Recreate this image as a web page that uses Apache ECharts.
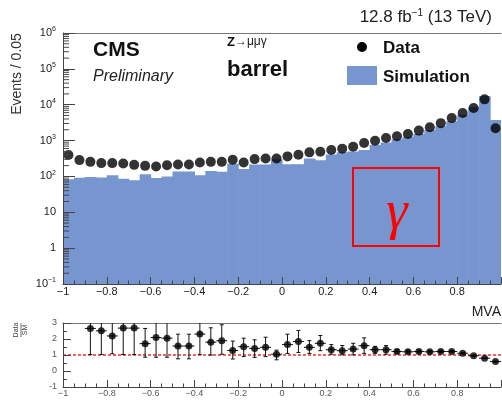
<!DOCTYPE html>
<html>
<head>
<meta charset="utf-8">
<script src="https://cdn.jsdelivr.net/npm/echarts@6/dist/echarts.min.js"></script>
<style>
  html, body { margin: 0; padding: 0; background: #fff; }
  #chart { width: 502px; height: 411px; }
</style>
</head>
<body>
<div id="chart"></div>
<script>
// Photon MVA output, Z -> mu mu gamma, barrel; 40 bins of width 0.05 on [-1, 1]
const binCenters = [
  -0.975, -0.925, -0.875, -0.825, -0.775, -0.725, -0.675, -0.625, -0.575, -0.525,
  -0.475, -0.425, -0.375, -0.325, -0.275, -0.225, -0.175, -0.125, -0.075, -0.025,
   0.025,  0.075,  0.125,  0.175,  0.225,  0.275,  0.325,  0.375,  0.425,  0.475,
   0.525,  0.575,  0.625,  0.675,  0.725,  0.775,  0.825,  0.875,  0.925,  0.975
];
const dataCounts = [
  394, 285, 255, 235, 235, 230, 210, 197, 190, 206,
  216, 216, 246, 255, 255, 291, 246, 304, 318, 318,
  362, 402, 469, 488, 545, 595, 674, 857, 993, 1183,
  1321, 1531, 1897, 2364, 3062, 4227, 5848, 8072, 14090, 2218
];
const simCounts = [
  84, 92, 97, 94, 107, 86, 78, 115, 91, 100,
  138, 138, 107, 142, 135, 227, 162, 216, 215, 303,
  219, 218, 317, 282, 410, 470, 492, 542, 747, 889,
  1083, 1276, 1555, 1970, 2510, 3465, 5270, 8500, 17600, 3760
];
// Data / SM ratio with its uncertainty band (lower / upper end)
const ratioValues = [
  null, null, 2.66, 2.51, 2.19, 2.68, 2.68, 1.71, 2.09, 2.05,
  1.56, 1.56, 2.31, 1.80, 1.89, 1.28, 1.52, 1.41, 1.48, 1.05,
  1.65, 1.84, 1.48, 1.73, 1.33, 1.27, 1.37, 1.58, 1.33, 1.33,
  1.22, 1.20, 1.22, 1.20, 1.22, 1.22, 1.11, 0.95, 0.80, 0.59
];
const ratioLow = [
  null, null, 1.03, 1.03, 1.08, 1.03, 1.03, 0.86, 0.86, 0.86,
  0.76, 0.76, 1.03, 1.00, 1.05, 0.75, 0.90, 0.85, 0.90, 0.70,
  1.10, 1.16, 1.10, 1.27, 1.05, 1.01, 1.01, 1.10, 1.10, 1.05,
  1.12, 1.12, 1.14, 1.13, 1.16, 1.17, 1.07, 0.92, 0.78, 0.56
];
const ratioHigh = [
  null, null, 3.6, 3.4, 3.3, 3.6, 3.6, 2.66, 3.3, 3.2,
  2.30, 2.30, 3.5, 2.70, 2.89, 1.87, 2.05, 1.95, 2.11, 1.30,
  2.30, 2.54, 1.90, 2.22, 1.65, 1.59, 1.73, 2.07, 1.54, 1.59,
  1.32, 1.29, 1.30, 1.27, 1.28, 1.27, 1.15, 0.98, 0.82, 0.62
];
const xTicks = [-1, -0.8, -0.6, -0.4, -0.2, 0, 0.2, 0.4, 0.6, 0.8, 1];
const ratioTicks = [-1, 0, 1, 2, 3];

const HALF_BIN = 0.025;
const FONT = '"Liberation Sans", Arial, Helvetica, sans-serif';
const AXIS_COLOR = '#444';
const SIM_COLOR = '#7795cf';

const fmtNum = v => {
  const r = Math.round(v * 10) / 10;
  return (r < 0 ? '\u2212' : '') + String(Math.abs(r));
};
const fmtLog = v => {
  const e = Math.round(Math.log10(v));
  if (e === 0) return '1';
  if (e === 1) return '10';
  return '10{sup|' + (e < 0 ? '\u2212' + (-e) : e) + '}';
};

// minor ticks of the logarithmic axis (2..9 x 10^k)
const logMinor = [];
for (let k = -1; k < 6; k++) {
  for (let m = 2; m <= 9; m++) logMinor.push([m * Math.pow(10, k)]);
}

const histData = binCenters.map((c, i) => [c, simCounts[i]]);
const dotData = binCenters.map((c, i) => [c, dataCounts[i]]);
const ratioData = [];
binCenters.forEach((c, i) => {
  if (ratioValues[i] != null) ratioData.push([c, ratioValues[i], ratioLow[i], ratioHigh[i]]);
});

const chart = echarts.init(document.getElementById('chart'), null, { renderer: 'canvas' });

const commonX = {
  type: 'value', min: -1, max: 1, interval: 0.2,
  splitLine: { show: false },
  axisLine: { onZero: false, lineStyle: { color: AXIS_COLOR, width: 1 } },
  axisTick: { inside: true, length: 7, lineStyle: { color: AXIS_COLOR } },
  minorTick: { show: true, splitNumber: 4, length: 3.5, lineStyle: { color: AXIS_COLOR } },
  z: 10
};

chart.setOption({
  animation: false,
  backgroundColor: '#fff',
  grid: [
    { left: 63, top: 33, width: 438, height: 251 },
    { left: 63, top: 323, width: 438, height: 64 }
  ],
  xAxis: [
    Object.assign({}, commonX, {
      gridIndex: 0, position: 'bottom',
      axisLabel: { fontFamily: FONT, fontSize: 11, color: '#222', margin: 2, formatter: fmtNum, showMaxLabel: false }
    }),
    { type: 'value', gridIndex: 0, position: 'top', min: -1, max: 1,
      axisLine: { onZero: false, lineStyle: { color: '#777' } }, axisTick: { show: false },
      axisLabel: { show: false }, splitLine: { show: false } },
    Object.assign({}, commonX, {
      gridIndex: 1, position: 'bottom',
      axisLabel: { fontFamily: FONT, fontSize: 9, color: '#555', margin: 2, formatter: fmtNum, showMaxLabel: false }
    }),
    { type: 'value', gridIndex: 1, position: 'top', min: -1, max: 1,
      axisLine: { onZero: false, lineStyle: { color: '#777' } }, axisTick: { show: false },
      axisLabel: { show: false }, splitLine: { show: false } }
  ],
  yAxis: [
    { type: 'log', gridIndex: 0, logBase: 10, min: 0.1, max: 1e6, interval: 1,
      splitLine: { show: false },
      axisLine: { show: true, onZero: false, lineStyle: { color: AXIS_COLOR } },
      axisTick: { inside: true, length: 12, lineStyle: { color: AXIS_COLOR } },
      axisLabel: {
        fontFamily: FONT, fontSize: 11, color: '#222', margin: 7, formatter: fmtLog,
        rich: { sup: { fontFamily: FONT, fontSize: 7, color: '#222', verticalAlign: 'top', padding: [0, 0, 7, 0] } }
      },
      z: 10 },
    { type: 'value', gridIndex: 1, min: -1, max: 3, interval: 1,
      splitLine: { show: false },
      axisLine: { show: true, onZero: false, lineStyle: { color: AXIS_COLOR } },
      axisTick: { inside: true, length: 8, lineStyle: { color: AXIS_COLOR } },
      minorTick: { show: true, splitNumber: 2, length: 4, lineStyle: { color: AXIS_COLOR } },
      axisLabel: { fontFamily: FONT, fontSize: 9, color: '#555', margin: 6 },
      z: 10 }
  ],
  series: [
    {
      name: 'Simulation', type: 'custom', xAxisIndex: 0, yAxisIndex: 0,
      itemStyle: { color: SIM_COLOR }, data: histData, clip: true, z: 2,
      renderItem: (params, api) => {
        const c = api.value(0), v = api.value(1);
        const p0 = api.coord([c - HALF_BIN, v]);
        const p1 = api.coord([c + HALF_BIN, 0.1]);
        return { type: 'rect',
          shape: { x: p0[0], y: p0[1], width: p1[0] - p0[0] + 0.6, height: p1[1] - p0[1] },
          style: { fill: SIM_COLOR } };
      }
    },
    {
      name: 'logMinor', type: 'custom', xAxisIndex: 0, yAxisIndex: 0, data: logMinor, z: 11,
      silent: true,
      renderItem: (params, api) => {
        const p = api.coord([-1, api.value(0)]);
        return { type: 'line', shape: { x1: p[0], y1: p[1], x2: p[0] + 6, y2: p[1] },
          style: { stroke: AXIS_COLOR, lineWidth: 1 } };
      }
    },
    {
      name: 'Data', type: 'scatter', xAxisIndex: 0, yAxisIndex: 0, data: dotData,
      symbol: 'circle', symbolSize: 10, itemStyle: { color: '#000' }, z: 5
    },
    {
      name: 'unity', type: 'line', xAxisIndex: 2, yAxisIndex: 1,
      data: [[-1, 1], [1, 1]], symbol: 'none', silent: true,
      lineStyle: { color: '#e8322e', width: 1.5, type: [3, 2] }, z: 3
    },
    {
      name: 'ratioErr', type: 'custom', xAxisIndex: 2, yAxisIndex: 1, data: ratioData, clip: true, z: 4,
      renderItem: (params, api) => {
        const c = api.value(0);
        const top = Math.min(api.value(3), 3);
        const pc = api.coord([c, api.value(1)]);
        const pl = api.coord([c, api.value(2)]);
        const ph = api.coord([c, top]);
        const pa = api.coord([c - HALF_BIN, api.value(1)]);
        const pb = api.coord([c + HALF_BIN, api.value(1)]);
        const st = { stroke: '#111', lineWidth: 1 };
        const kids = [
          { type: 'line', shape: { x1: pc[0], y1: pl[1], x2: pc[0], y2: ph[1] }, style: st },
          { type: 'line', shape: { x1: pa[0], y1: pa[1], x2: pb[0], y2: pb[1] }, style: st },
          { type: 'line', shape: { x1: pc[0] - 2, y1: pl[1], x2: pc[0] + 2, y2: pl[1] }, style: st }
        ];
        if (api.value(3) < 3) {
          kids.push({ type: 'line', shape: { x1: pc[0] - 2, y1: ph[1], x2: pc[0] + 2, y2: ph[1] }, style: st });
        }
        return { type: 'group', children: kids };
      }
    },
    {
      name: 'ratio', type: 'scatter', xAxisIndex: 2, yAxisIndex: 1,
      data: ratioData.map(d => [d[0], d[1]]),
      symbol: 'circle', symbolSize: 7, itemStyle: { color: '#000' }, z: 5
    }
  ],
  graphic: [
    { type: 'text', x: 492, y: 17, z: 100,
      style: { text: '12.8 fb{sup|\u22121} (13 TeV)', font: '17px ' + FONT, fill: '#222',
        align: 'right', verticalAlign: 'middle',
        rich: { sup: { font: '10px ' + FONT, fill: '#222', verticalAlign: 'top', padding: [0, 0, 8, 0] } } } },
    { type: 'text', x: 17, y: 74, rotation: Math.PI / 2, z: 100,
      style: { text: 'Events / 0.05', font: '14px ' + FONT, fill: '#333', align: 'center', verticalAlign: 'middle' } },
    { type: 'group', x: 21, y: 330, rotation: Math.PI / 2, z: 100,
      children: [
        { type: 'text', x: 0, y: -1, style: { text: 'Data', font: '7px ' + FONT, fill: '#444', align: 'center', verticalAlign: 'bottom' } },
        { type: 'line', shape: { x1: -7, y1: 0, x2: 7, y2: 0 }, style: { stroke: '#444', lineWidth: 0.8 } },
        { type: 'text', x: 0, y: 1, style: { text: 'SM', font: '7px ' + FONT, fill: '#444', align: 'center', verticalAlign: 'top' } }
      ] },
    // legend
    { type: 'circle', z: 100, shape: { cx: 362, cy: 47, r: 5 }, style: { fill: '#000' } },
    { type: 'text', x: 383, y: 48, z: 100,
      style: { text: 'Data', font: 'bold 17px ' + FONT, fill: '#111', verticalAlign: 'middle' } },
    { type: 'rect', z: 100, shape: { x: 347, y: 66, width: 30, height: 19 }, style: { fill: SIM_COLOR } },
    { type: 'text', x: 383, y: 77, z: 100,
      style: { text: 'Simulation', font: 'bold 17px ' + FONT, fill: '#111', verticalAlign: 'middle' } },
    // labels
    { type: 'text', x: 93, y: 50, z: 100,
      style: { text: 'CMS', font: 'bold 21px ' + FONT, fill: '#111', verticalAlign: 'middle' } },
    { type: 'text', x: 93, y: 77, z: 100,
      style: { text: 'Preliminary', font: 'italic 16px ' + FONT, fill: '#222', verticalAlign: 'middle' } },
    { type: 'text', x: 227, y: 42, z: 100,
      style: { text: '{z|Z}{r|\u2192\u03bc\u03bc\u03b3}', verticalAlign: 'middle',
        rich: { z: { font: 'bold 13px ' + FONT, fill: '#111' }, r: { font: '12px ' + FONT, fill: '#222' } } } },
    { type: 'text', x: 227, y: 70, z: 100,
      style: { text: 'barrel', font: 'bold 22px ' + FONT, fill: '#111', verticalAlign: 'middle' } },
    { type: 'text', x: 501, y: 312, z: 100,
      style: { text: 'MVA', font: '14px ' + FONT, fill: '#222', align: 'right', verticalAlign: 'middle' } },
    { type: 'rect', z: 100, shape: { x: 353, y: 168, width: 86, height: 78 },
      style: { fill: 'none', stroke: '#ff0000', lineWidth: 2 } },
    { type: 'text', x: 397, y: 214, z: 100,
      style: { text: '\u03b3', font: 'italic 54px "Liberation Serif", "DejaVu Serif", serif', fill: '#ff0000',
        align: 'center', verticalAlign: 'middle' } }
  ]
});
</script>
</body>
</html>
